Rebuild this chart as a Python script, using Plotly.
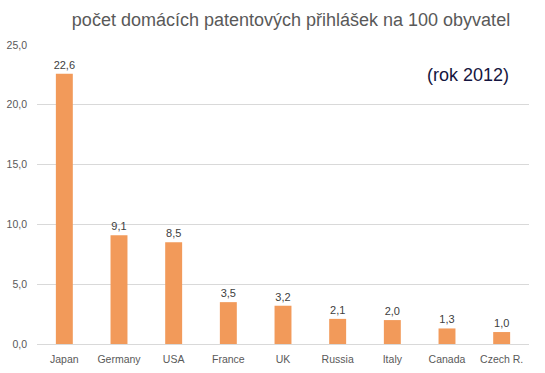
import plotly.graph_objects as go

countries = ["Japan", "Germany", "USA", "France", "UK", "Russia", "Italy", "Canada", "Czech R."]
values = [22.6, 9.1, 8.5, 3.5, 3.2, 2.1, 2.0, 1.3, 1.0]
y_ticks = [0, 5, 10, 15, 20, 25]

font_family = "Liberation Sans, Arial, sans-serif"

W, H = 545, 373
ML, MR, MT, MB = 37, 16, 45, 29
pw = W - ML - MR
ph = H - MT - MB

fig = go.Figure(go.Bar(
    x=countries, y=values,
    marker=dict(color="#F29A5A", line=dict(width=0)),
    text=[f"{v:.1f}".replace(".", ",") for v in values],
    textposition="outside",
    constraintext="none",
    textfont=dict(size=11, color="#404040", family=font_family),
    cliponaxis=False,
    hoverinfo="skip",
))

fig.update_layout(
    width=W, height=H,
    margin=dict(l=ML, r=MR, t=MT, b=MB, autoexpand=False),
    paper_bgcolor="white", plot_bgcolor="white",
    bargap=0.69,
    separators=",.",
    showlegend=False,
    font=dict(family=font_family, color="#595959"),
    title=dict(text="počet domácích patentových přihlášek na 100 obyvatel",
               x=(291) / W, xanchor="center", y=1 - 20 / H, yanchor="middle",
               font=dict(size=18, color="#595959", family=font_family)),
    xaxis=dict(showgrid=False, showline=False, ticks="", automargin=False,
               ticklabelstandoff=7,
               tickfont=dict(size=10.5, color="#595959")),
    yaxis=dict(range=[0, 25], tickvals=y_ticks, tickformat=".1f",
               showgrid=True, gridcolor="#D9D9D9", gridwidth=1,
               zeroline=True, zerolinecolor="#D9D9D9", zerolinewidth=1,
               showline=False, ticks="", automargin=False,
               ticklabelstandoff=9,
               tickfont=dict(size=10.5, color="#595959")),
    annotations=[dict(text="(rok 2012)",
                      x=(468 - ML) / pw, y=(H - MB - 75) / ph,
                      xref="paper", yref="paper",
                      xanchor="center", yanchor="middle",
                      showarrow=False,
                      font=dict(size=18, color="#151540", family=font_family))],
)

fig.write_html("out.html", config={"displayModeBar": False},
               post_script="document.body.style.margin='0';document.body.style.padding='0';")
